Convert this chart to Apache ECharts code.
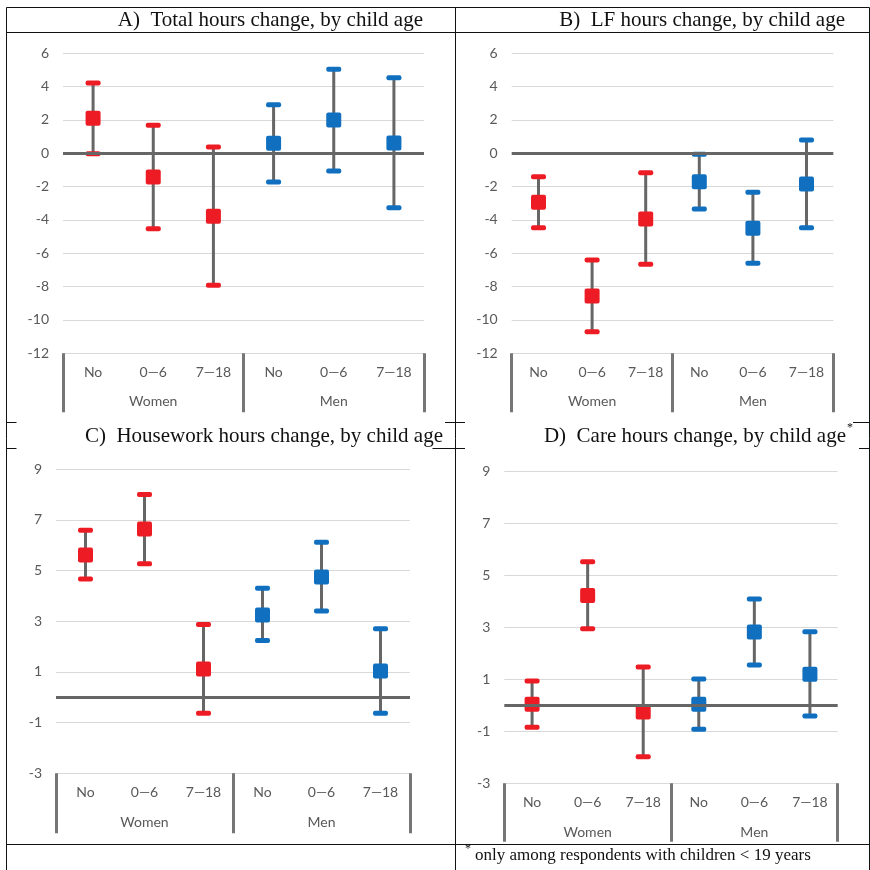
<!DOCTYPE html>
<html>
<head>
<meta charset="utf-8">
<script src="https://cdn.jsdelivr.net/npm/echarts@6/dist/echarts.min.js"></script>
<style>
html,body{margin:0;padding:0;background:#fff;}
#chart{width:870px;height:870px;}
</style>
</head>
<body>
<div id="chart"></div>
<script>
// ---------- data ----------
const categories = ['No', '0\u20146', '7\u201418', 'No', '0\u20146', '7\u201418'];
const groups = ['Women', 'Men'];

const titleA = 'A)  Total hours change, by child age';
const titleB = 'B)  LF hours change, by child age';
const titleC = 'C)  Housework hours change, by child age';
const titleD = 'D)  Care hours change, by child age';
const footnote = 'only among respondents with children < 19 years';

// A) Total hours
const aLow  = [-0.02, -4.52, -7.92, -1.72, -1.06, -3.26];
const aMid  = [2.10, -1.42, -3.78, 0.60, 2.00, 0.62];
const aHigh = [4.22, 1.68, 0.38, 2.92, 5.04, 4.54];
// B) LF hours
const bLow  = [-4.46, -10.70, -6.66, -3.34, -6.60, -4.46];
const bMid  = [-2.94, -8.56, -3.94, -1.70, -4.50, -1.84];
const bHigh = [-1.40, -6.40, -1.16, -0.06, -2.34, 0.80];
// C) Housework hours
const cLow  = [4.67, 5.27, -0.63, 2.24, 3.41, -0.63];
const cMid  = [5.62, 6.64, 1.12, 3.25, 4.75, 1.04];
const cHigh = [6.59, 8.01, 2.87, 4.30, 6.12, 2.71];
// D) Care hours
const dLow  = [-0.85, 2.94, -1.98, -0.92, 1.55, -0.41];
const dMid  = [0.04, 4.22, -0.26, 0.04, 2.81, 1.19];
const dHigh = [0.93, 5.51, 1.47, 1.01, 4.08, 2.82];

// y-axis ranges (ticks)
const yTopRange = {min: -12, max: 6, interval: 2};
const yBotRange = {min: -3, max: 9, interval: 2};

// ---------- styling ----------
const RED = '#ED1C24';
const BLUE = '#1070BF';
const BAR = '#666666';
const labelFont = 'Lato, "Liberation Sans", sans-serif';
const serif = '"Liberation Serif", "Times New Roman", serif';

const grids = [
  {left: 63, top: 53.3, width: 361, height: 300},
  {left: 511.7, top: 53.3, width: 321.6, height: 300},
  {left: 56, top: 469.3, width: 354, height: 304},
  {left: 504.3, top: 471, width: 333.4, height: 312.3}
];
const panels = [
  {low: aLow, mid: aMid, high: aHigh, range: yTopRange, tick: 59, lblMargin: 41},
  {low: bLow, mid: bMid, high: bHigh, range: yTopRange, tick: 59, lblMargin: 41},
  {low: cLow, mid: cMid, high: cHigh, range: yBotRange, tick: 60, lblMargin: 42},
  {low: dLow, mid: dMid, high: dHigh, range: yBotRange, tick: 58.5, lblMargin: 42}
];

const xAxes = [], yAxes = [], series = [];
panels.forEach((p, g) => {
  xAxes.push({
    type: 'category', gridIndex: g, data: categories, position: 'bottom',
    axisLine: {show: false}, axisTick: {show: false},
    axisLabel: {interval: 0, margin: 12, color: '#595959', fontSize: 14, fontFamily: labelFont}
  });
  xAxes.push({
    type: 'category', gridIndex: g, data: groups, position: 'bottom',
    axisLine: {show: false},
    axisTick: {show: true, length: p.tick, interval: 0, lineStyle: {width: 3, color: '#767676'}},
    axisLabel: {interval: 0, margin: p.lblMargin, color: '#595959', fontSize: 14, fontFamily: labelFont}
  });
  yAxes.push({
    type: 'value', gridIndex: g,
    min: p.range.min, max: p.range.max, interval: p.range.interval,
    axisLine: {show: false}, axisTick: {show: false},
    axisLabel: {margin: 14, color: '#595959', fontSize: 14, fontFamily: labelFont},
    splitLine: {show: true, lineStyle: {color: '#d9d9d9', width: 1}}
  });
  // zero line
  series.push({
    type: 'line', xAxisIndex: 2 * g, yAxisIndex: g, data: [], z: 1, silent: true,
    markLine: {
      silent: true, symbol: 'none', label: {show: false},
      lineStyle: {color: BAR, width: 3, type: 'solid'},
      data: [{yAxis: 0}]
    }
  });
  // error bars
  series.push({
    type: 'custom', xAxisIndex: 2 * g, yAxisIndex: g, z: 3,
    data: categories.map((c, i) => ({
      value: [i, p.low[i], p.mid[i], p.high[i]],
      itemStyle: {color: i < 3 ? RED : BLUE}
    })),
    encode: {x: 0, y: [1, 2, 3]},
    renderItem: function (params, api) {
      const xi = api.value(0);
      const lo = api.coord([xi, api.value(1)]);
      const md = api.coord([xi, api.value(2)]);
      const hi = api.coord([xi, api.value(3)]);
      const col = api.visual('color');
      const cw = 15, ch = 5, ms = 15;
      return {
        type: 'group',
        children: [
          {type: 'line', shape: {x1: lo[0], y1: lo[1], x2: hi[0], y2: hi[1]},
           style: {stroke: BAR, lineWidth: 3}},
          {type: 'rect', shape: {x: hi[0] - cw / 2, y: hi[1] - ch / 2, width: cw, height: ch, r: 2},
           style: {fill: col}},
          {type: 'rect', shape: {x: lo[0] - cw / 2, y: lo[1] - ch / 2, width: cw, height: ch, r: 2},
           style: {fill: col}},
          {type: 'rect', shape: {x: md[0] - ms / 2, y: md[1] - ms / 2, width: ms, height: ms, r: 2},
           style: {fill: col}}
        ]
      };
    }
  });
});

// table borders
function ln(x1, y1, x2, y2) {
  return {type: 'line', silent: true, shape: {x1: x1, y1: y1, x2: x2, y2: y2},
          style: {stroke: '#111', lineWidth: 1}};
}
function txt(text, x, y, align, size) {
  return {type: 'text', silent: true, x: x, y: y,
    style: {text: text, fill: '#111', font: size + 'px ' + serif, textAlign: align, textVerticalAlign: 'middle'}};
}
const graphics = [
  ln(6.5, 7.5, 869.5, 7.5),
  ln(6.5, 7.5, 6.5, 870),
  ln(869.5, 7.5, 869.5, 870),
  ln(455.5, 7.5, 455.5, 870),
  ln(6.5, 32.5, 869.5, 32.5),
  ln(6.5, 422.5, 16.5, 422.5),
  ln(445, 422.5, 465, 422.5),
  ln(853, 422.5, 869.5, 422.5),
  ln(6.5, 448.5, 16.5, 448.5),
  ln(432.5, 448.5, 465, 448.5),
  ln(859, 448.5, 869.5, 448.5),
  ln(6.5, 844.5, 869.5, 844.5),
  txt(titleA, 423, 20.5, 'right', 21),
  txt(titleB, 845, 20.5, 'right', 21),
  txt(titleC, 443, 436.5, 'right', 21),
  txt(titleD, 846, 436.5, 'right', 21),
  txt('*', 847, 428, 'left', 12),
  txt('*', 465, 849, 'left', 12),
  txt(footnote, 475, 856, 'left', 17)
];

const chart = echarts.init(document.getElementById('chart'), null, {renderer: 'canvas'});
chart.setOption({
  backgroundColor: '#fff',
  animation: false,
  grid: grids,
  xAxis: xAxes,
  yAxis: yAxes,
  series: series,
  graphic: graphics
});
</script>
</body>
</html>
